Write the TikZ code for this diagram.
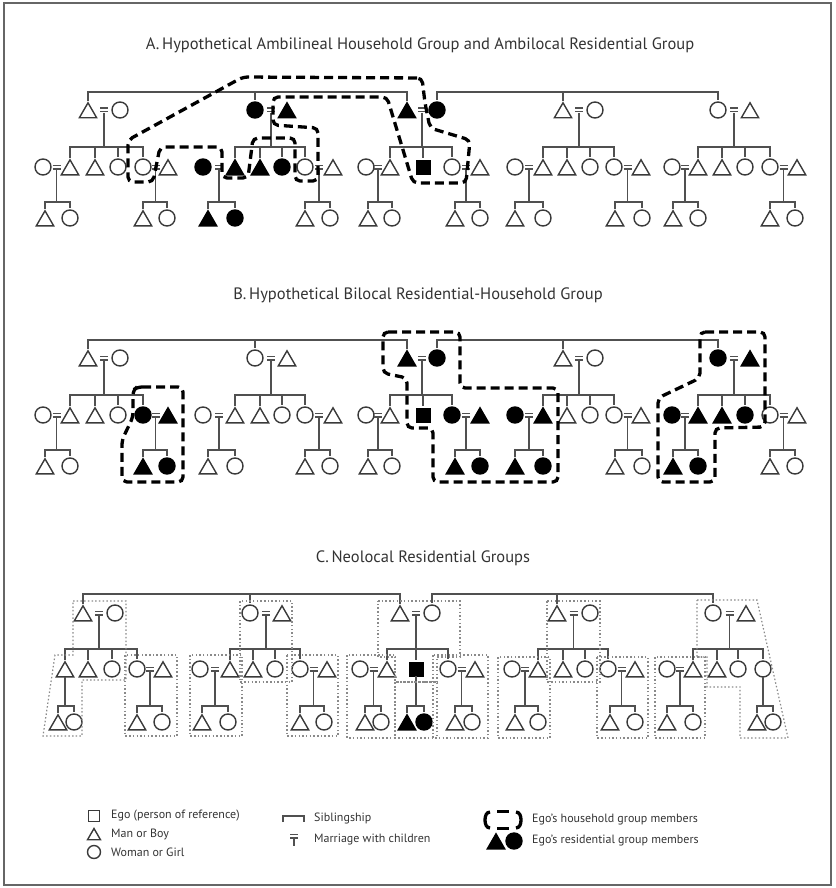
\documentclass[tikz,border=0pt]{standalone}
\usepackage{fontspec}
\setmainfont{PT Sans}
\usetikzlibrary{shapes.geometric,calc}
\definecolor{symc}{HTML}{3A3A3A}
\definecolor{linec}{HTML}{505050}
\definecolor{txtc}{HTML}{333333}
\definecolor{resc}{HTML}{8A8A8A}
\definecolor{framec}{HTML}{666666}
\newcommand\kM[4][]{\node[man,#1] (#2) at (#3,#4) {};}
\newcommand\kW[4][]{\node[wom,#1] (#2) at (#3,#4) {};}
\newcommand\kEq[3]{\coordinate (#1) at (#2,#3);\coordinate (#1d) at (#2,#3+3);
  \draw[kin,line width=1.2pt] ($(#1)+(-4,-1.9)$) -- ($(#1)+(4,-1.9)$) ($(#1)+(-4,1.9)$) -- ($(#1)+(4,1.9)$);}
\newcommand\kDn[2]{\coordinate (sbar) at (0,#2);\draw[kin] (#1) -- (#1 |- sbar);}
\newcommand\kSib[4]{\coordinate (sbar) at (0,#1);
  \draw[kin] ([yshift=2pt]#2.north) -- (#2.north |- sbar) -- (#3.north |- sbar) -- ([yshift=2pt]#3.north);
  \foreach \nn in {#4}{\draw[kin] (\nn.north |- sbar) -- ([yshift=2pt]\nn.north);}}
\newcommand\kGK[6]{\kM[#6]{#1a}{#3}{#5}\kW[#6]{#1b}{#4}{#5}%
  \kDn{#2}{#5-16}\kSib{#5-16}{#1a}{#1b}{#1a}}
\begin{document}
\begin{tikzpicture}[x=1pt,y=-1pt,
 per/.style={draw=symc,line width=1.4pt,inner sep=0pt,outer sep=0pt},
 man/.style={per,regular polygon,regular polygon sides=3,minimum size=20pt,yshift=-2.8pt},
 wom/.style={per,circle,minimum size=16pt},
 egosq/.style={rectangle,fill=black,draw=black,line width=0.8pt,minimum size=14pt,inner sep=0pt},
 fl/.style={fill=black,draw=black},
 kin/.style={draw=linec,line width=1.4pt},
 hh/.style={draw=black,line width=3.3pt,dash pattern=on 9pt off 5pt,rounded corners=5pt},
 hhsolid/.style={draw=black,line width=3.3pt},
 res/.style={draw=resc,line width=1.2pt,dash pattern=on 1.5pt off 2.2pt},
 ttl/.style={font=\fontsize{16.5}{18}\selectfont,text=txtc,inner sep=0pt},
 lgd/.style={font=\fontsize{12}{14}\selectfont,text=txtc,inner sep=0pt,anchor=west}]
\useasboundingbox (0,0) rectangle (835,888);
\draw[framec,line width=1.5pt] (4,3) rectangle (831,885);

% ================= A =================
\node[ttl] (tA) at (420,45) {A.\,Hypothetical Ambilineal Household Group and Ambilocal Residential Group};
\kM{aP1m}{88}{110}\kW{aP1w}{120}{110}\kEq{aE1}{104}{110}
\kW[fl]{aP2w}{255}{110}\kM[fl]{aP2h}{287}{110}\kEq{aE2}{271}{110}
\kM[fl]{aP3m}{407}{110}\kW[fl]{aP3w}{437}{110}\kEq{aE3}{422}{110}
\kM{aP4m}{563}{110}\kW{aP4w}{595}{110}\kEq{aE4}{579}{110}
\kW{aP5w}{718}{110}\kM{aP5h}{750}{110}\kEq{aE5}{734}{110}
\kSib{92}{aP1m}{aP3m}{aP2w}
\kSib{92}{aP3w}{aP5w}{aP4m}
% fam 1
\kW{aC11w}{43}{167}\kM{aC11}{70}{167}\kEq{aE11}{56.5}{167}
\kM{aC12}{95}{167}\kW{aC13}{118}{167}
\kW{aC14}{143}{167}\kM{aC14h}{168}{167}\kEq{aE14}{155.5}{167}
\kDn{aE1d}{147}\kSib{147}{aC11}{aC14}{aC12,aC13}
\kGK{aG11}{aE11d}{45}{70}{218}{}
\kGK{aG14}{aE14d}{143}{167}{218}{}
% fam 2
\kW[fl]{aC21w}{203}{167}\kM[fl]{aC21}{235}{167}\kEq{aE21}{219}{167}
\kM[fl]{aC22}{260}{167}\kW[fl]{aC23}{282}{167}
\kW{aC24}{305}{167}\kM{aC24h}{333}{167}\kEq{aE24}{319}{167}
\kDn{aE2d}{147}\kSib{147}{aC21}{aC24}{aC22,aC23}
\kGK{aG21}{aE21d}{208}{235}{218}{fl}
\kGK{aG24}{aE24d}{305}{330}{218}{}
% fam 3
\kW{aC31w}{366}{167}\kM{aC31}{390}{167}\kEq{aE31}{378}{167}
\node[egosq] (aEgo) at (423,167) {};
\kW{aC33}{452}{167}\kM{aC33h}{480}{167}\kEq{aE33}{466}{167}
\kDn{aE3d}{147}\kSib{147}{aC31}{aC33}{aEgo}
\kGK{aG31}{aE31d}{368}{392}{218}{}
\kGK{aG33}{aE33d}{455}{480}{218}{}
% fam 4
\kW{aC41w}{515}{167}\kM{aC41}{543}{167}\kEq{aE41}{529}{167}
\kM{aC42}{567}{167}\kW{aC43}{590}{167}
\kW{aC44}{614}{167}\kM{aC44h}{641}{167}\kEq{aE44}{627.5}{167}
\kDn{aE4d}{147}\kSib{147}{aC41}{aC44}{aC42,aC43}
\kGK{aG41}{aE41d}{515}{543}{218}{}
\kGK{aG44}{aE44d}{615}{642}{218}{}
% fam 5
\kW{aC51w}{672}{167}\kM{aC51}{698}{167}\kEq{aE51}{685}{167}
\kM{aC52}{722}{167}\kW{aC53}{745}{167}
\kW{aC54}{770}{167}\kM{aC54h}{797}{167}\kEq{aE54}{783.5}{167}
\kDn{aE5d}{147}\kSib{147}{aC51}{aC54}{aC52,aC53}
\kGK{aG51}{aE51d}{673}{698}{218}{}
\kGK{aG54}{aE54d}{770}{795}{218}{}
% household A
\draw[hh] (422,78) -- (243,77) -- (128,140) -- (128,182) -- (153,182) -- (160,147) -- (222,147) -- (222,178) -- (248,178) -- (253,138) -- (295,138) -- (295,181) -- (318,181) -- (318,128) -- (273,125) -- (273,97) -- (387,97) -- (413,183) -- (466,183) -- (470,140) -- (430,128) -- (425,103) -- cycle;

% ================= B =================
\node[ttl] (tB) at (418,295) {B.\,Hypothetical Bilocal Residential-Household Group};
\kM{bP1m}{88}{358}\kW{bP1w}{120}{358}\kEq{bE1}{104}{358}
\kW{bP2w}{255}{358}\kM{bP2h}{287}{358}\kEq{bE2}{271}{358}
\kM[fl]{bP3m}{407}{358}\kW[fl]{bP3w}{437}{358}\kEq{bE3}{422}{358}
\kM{bP4m}{563}{358}\kW{bP4w}{595}{358}\kEq{bE4}{579}{358}
\kW[fl]{bP5w}{718}{358}\kM[fl]{bP5h}{750}{358}\kEq{bE5}{734}{358}
\kSib{340}{bP1m}{bP3m}{bP2w}
\kSib{340}{bP3w}{bP5w}{bP4m}
% fam 1
\kW{bC11w}{43}{415}\kM{bC11}{70}{415}\kEq{bE11}{56.5}{415}
\kM{bC12}{95}{415}\kW{bC13}{118}{415}
\kW[fl]{bC14}{143}{415}\kM[fl]{bC14h}{168}{415}\kEq{bE14}{155.5}{415}
\kDn{bE1d}{395}\kSib{395}{bC11}{bC14}{bC12,bC13}
\kGK{bG11}{bE11d}{45}{70}{466}{}
\kGK{bG14}{bE14d}{143}{167}{466}{fl}
% fam 2
\kW{bC21w}{203}{415}\kM{bC21}{235}{415}\kEq{bE21}{219}{415}
\kM{bC22}{260}{415}\kW{bC23}{282}{415}
\kW{bC24}{305}{415}\kM{bC24h}{333}{415}\kEq{bE24}{319}{415}
\kDn{bE2d}{395}\kSib{395}{bC21}{bC24}{bC22,bC23}
\kGK{bG21}{bE21d}{208}{235}{466}{}
\kGK{bG24}{bE24d}{305}{330}{466}{}
% fam 3
\kW{bC31w}{366}{415}\kM{bC31}{390}{415}\kEq{bE31}{378}{415}
\node[egosq] (bEgo) at (423,415) {};
\kW[fl]{bC33}{452}{415}\kM[fl]{bC33h}{480}{415}\kEq{bE33}{466}{415}
\kDn{bE3d}{395}\kSib{395}{bC31}{bC33}{bEgo}
\kGK{bG31}{bE31d}{368}{392}{466}{}
\kGK{bG33}{bE33d}{455}{480}{466}{fl}
% fam 4
\kW[fl]{bC41w}{515}{415}\kM[fl]{bC41}{543}{415}\kEq{bE41}{529}{415}
\kM{bC42}{567}{415}\kW{bC43}{590}{415}
\kW{bC44}{614}{415}\kM{bC44h}{641}{415}\kEq{bE44}{627.5}{415}
\kDn{bE4d}{395}\kSib{395}{bC41}{bC44}{bC42,bC43}
\kGK{bG41}{bE41d}{515}{543}{466}{fl}
\kGK{bG44}{bE44d}{615}{642}{466}{}
% fam 5
\kW[fl]{bC51w}{672}{415}\kM[fl]{bC51}{698}{415}\kEq{bE51}{685}{415}
\kM[fl]{bC52}{722}{415}\kW[fl]{bC53}{745}{415}
\kW{bC54}{770}{415}\kM{bC54h}{797}{415}\kEq{bE54}{783.5}{415}
\kDn{bE5d}{395}\kSib{395}{bC51}{bC54}{bC52,bC53}
\kGK{bG51}{bE51d}{673}{698}{466}{fl}
\kGK{bG54}{bE54d}{770}{795}{466}{}
% households B
\draw[hh] (137,387) -- (183,387) -- (183,482) -- (122,482) -- (122,440) -- (133,417) -- (133,390) -- cycle;
\draw[hh] (383,332) -- (460,332) -- (460,388) -- (558,388) -- (558,482) -- (433,482) -- (433,428) -- (407,428) -- (407,378) -- (383,373) -- cycle;
\draw[hh] (700,332) -- (765,332) -- (765,427) -- (715,428) -- (715,482) -- (658,482) -- (658,398) -- (700,378) -- cycle;

% ================= C =================
\node[ttl] (tC) at (423,558) {C.\,Neolocal Residential Groups};
\kM{cP1m}{83}{613}\kW{cP1w}{115}{613}\kEq{cE1}{99}{613}
\kW{cP2w}{250}{613}\kM{cP2h}{282}{613}\kEq{cE2}{266}{613}
\kM{cP3m}{400}{613}\kW{cP3w}{432}{613}\kEq{cE3}{416}{613}
\kM{cP4m}{557}{613}\kW{cP4w}{590}{613}\kEq{cE4}{573.5}{613}
\kW{cP5w}{713}{613}\kM{cP5h}{746}{613}\kEq{cE5}{729.5}{613}
\kSib{594}{cP1m}{cP3m}{cP2w}
\kSib{594}{cP3w}{cP5w}{cP4m}
% fam 1
\kM{cC11}{65}{669}\kM{cC12}{88}{669}\kW{cC13}{112}{669}
\kW{cC14}{137}{669}\kM{cC14h}{163}{669}\kEq{cE14}{150}{669}
\kDn{cE1d}{649}\kSib{649}{cC11}{cC14}{cC12,cC13}
\kGK{cG11}{cC11.south}{58}{74}{722}{}
\kGK{cG14}{cE14d}{137}{162}{722}{}
% fam 2
\kW{cC21w}{200}{669}\kM{cC21}{230}{669}\kEq{cE21}{215}{669}
\kM{cC22}{253}{669}\kW{cC23}{275}{669}
\kW{cC24}{300}{669}\kM{cC24h}{327}{669}\kEq{cE24}{313.5}{669}
\kDn{cE2d}{649}\kSib{649}{cC21}{cC24}{cC22,cC23}
\kGK{cG21}{cE21d}{202}{228}{722}{}
\kGK{cG24}{cE24d}{300}{324}{722}{}
% fam 3
\kW{cC31w}{360}{669}\kM{cC31}{387}{669}\kEq{cE31}{373.5}{669}
\node[egosq] (cEgo) at (416,669) {};
\kW{cC33}{448}{669}\kM{cC33h}{475}{669}\kEq{cE33}{461.5}{669}
\kDn{cE3d}{649}\kSib{649}{cC31}{cC33}{cEgo}
\kGK{cG31}{cE31d}{365}{381}{722}{}
\kGK{cG32}{cEgo.south}{407}{424}{722}{fl}
\kGK{cG33}{cE33d}{455}{472}{722}{}
% fam 4
\kW{cC41w}{512}{669}\kM{cC41}{538}{669}\kEq{cE41}{525}{669}
\kM{cC42}{563}{669}\kW{cC43}{585}{669}
\kW{cC44}{608}{669}\kM{cC44h}{635}{669}\kEq{cE44}{621.5}{669}
\kDn{cE4d}{649}\kSib{649}{cC41}{cC44}{cC42,cC43}
\kGK{cG41}{cE41d}{515}{538}{722}{}
\kGK{cG44}{cE44d}{610}{635}{722}{}
% fam 5
\kW{cC51w}{667}{669}\kM{cC51}{693}{669}\kEq{cE51}{680}{669}
\kM{cC52}{717}{669}\kW{cC53}{738}{669}\kW{cC54}{763}{669}
\kDn{cE5d}{649}\kSib{649}{cC51}{cC54}{cC52,cC53}
\kGK{cG51}{cE51d}{667}{693}{722}{}
\kGK{cG54}{cC54.south}{757}{773}{722}{}
% residential groups C
\draw[res] (73,601) -- (126,601) -- (126,680) -- (82,680) -- (82,736) -- (43,736) -- (55,655) -- (73,655) -- cycle;
\draw[res] (125,655) rectangle (177,736);
\draw[res] (240,601) rectangle (292,682);
\draw[res] (190,655) rectangle (242,736);
\draw[res] (287,655) rectangle (338,736);
\draw[res] (378,601) -- (460,601) -- (460,657) -- (437,657) -- (437,682) -- (395,682) -- (395,657) -- (378,657) -- cycle;
\draw[res] (347,655) rectangle (395,738);
\draw[res] (395,682) rectangle (437,738);
\draw[res] (433,655) rectangle (488,738);
\draw[res] (547,601) rectangle (600,682);
\draw[res] (498,657) rectangle (550,738);
\draw[res] (597,657) rectangle (648,738);
\draw[res] (697,600) -- (757,600) -- (788,738) -- (740,738) -- (740,687) -- (707,687) -- (707,657) -- (697,657) -- cycle;
\draw[res] (655,657) rectangle (705,738);

% ================= Legend =================
\node[per,rectangle,minimum size=11pt] (lgE) at (94,816) {};
\node[lgd] (lgEt) at (111,816) {Ego (person of reference)};
\node[per,regular polygon,regular polygon sides=3,minimum size=15pt,yshift=-2pt] (lgM) at (94,834) {};
\node[lgd] (lgMt) at (111,834) {Man or Boy};
\node[per,circle,minimum size=13pt] (lgW) at (94,852) {};
\node[lgd] (lgWt) at (111,852) {Woman or Girl};
\draw[kin] (283,822) -- (283,816) -- (304,816) -- (304,822);
\node[lgd] (lgSt) at (314,818) {Siblingship};
\kEq{lgEq}{294}{836}
\draw[kin] (lgEqd) -- ++(0,7);
\node[lgd] (lgQt) at (314,840) {Marriage with children};
\draw[hhsolid] (490,812) to[out=180,in=90] (485,820) to[out=-90,in=180] (490,828);
\draw[hhsolid] (516,812) to[out=0,in=90] (521,820) to[out=-90,in=0] (516,828);
\draw[hhsolid] (497,811.5) -- (509,811.5);
\draw[hhsolid] (497,828.5) -- (509,828.5);
\node[lgd] (lgHt) at (532,820) {Ego's household group members};
\kM[fl]{lgRm}{496}{841}\kW[fl]{lgRw}{514}{841}
\node[lgd] (lgRt) at (532,841) {Ego's residential group members};
\end{tikzpicture}
\end{document}
